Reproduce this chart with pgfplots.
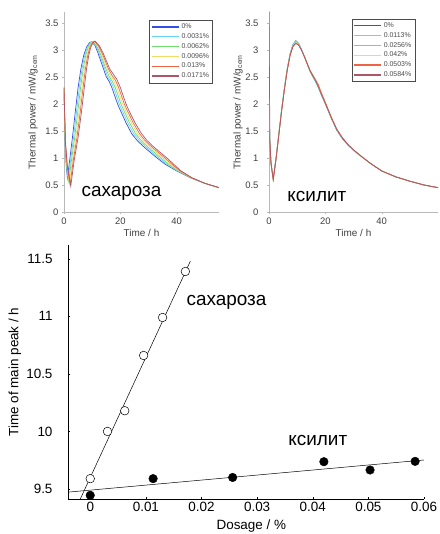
\documentclass[border=0pt]{standalone}
\usepackage{fontspec}
\setmainfont{Liberation Sans}
\usepackage{pgfplots}
\usepackage{pgfplotstable}
\pgfplotsset{compat=1.18}

\definecolor{c0}{RGB}{50,80,230}
\definecolor{c1}{RGB}{100,210,245}
\definecolor{c2}{RGB}{110,220,110}
\definecolor{c3}{RGB}{240,220,100}
\definecolor{c4}{RGB}{240,100,70}
\definecolor{c5}{RGB}{175,85,105}

% sucrose: heat flow curves, one time column per dosage
\pgfplotstableread{
t0   t1    t2    t3    t4    t5   p0   p1   p2   p3   p4   p5
0    0     0     0     0     0    2.3  2.3  2.3  2.3  2.3  2.3
0.4  0.42  0.44  0.46  0.48  0.5  1.3  1.3  1.3  1.3  1.3  1.3
0.8  0.88  0.96  1.04  1.12  1.2  0.85 0.85 0.85 0.85 0.85 0.85
1.2  1.44  1.68  1.92  2.16  2.4  0.63 0.60 0.57 0.54 0.51 0.48
2    2.32  2.64  2.96  3.28  3.6  0.95 0.95 0.95 0.95 0.95 0.95
3    3.4   3.8   4.2   4.6   5    1.38 1.38 1.38 1.38 1.38 1.38
4    4.44  4.88  5.32  5.76  6.2  1.85 1.85 1.85 1.85 1.85 1.85
5    5.44  5.88  6.32  6.76  7.2  2.3  2.3  2.3  2.3  2.3  2.3
6    6.4   6.8   7.2   7.6   8    2.65 2.65 2.65 2.65 2.65 2.65
7    7.36  7.72  8.08  8.44  8.8  2.9  2.9  2.9  2.9  2.9  2.9
8    8.3   8.6   8.9   9.2   9.5  3.05 3.05 3.05 3.05 3.05 3.05
9    9.26  9.52  9.78  10.04 10.3 3.13 3.13 3.13 3.13 3.13 3.13
9.8  10.04 10.28 10.52 10.76 11   3.15 3.15 3.15 3.16 3.16 3.16
11   11.3  11.6  11.9  12.2  12.5 3.08 3.08 3.08 3.08 3.08 3.08
12   12.36 12.72 13.08 13.44 13.8 2.95 2.95 2.95 2.95 2.95 2.95
13   13.4  13.8  14.2  14.6  15   2.8  2.8  2.8  2.8  2.8  2.8
14   14.44 14.88 15.32 15.76 16.2 2.65 2.65 2.65 2.65 2.65 2.65
15   15.5  16    16.5  17    17.5 2.5  2.5  2.51 2.52 2.53 2.55
16   16.56 17.12 17.68 18.24 18.8 2.42 2.42 2.42 2.43 2.44 2.45
17   17.6  18.2  18.8  19.4  20   2.3  2.3  2.3  2.3  2.3  2.3
18   18.6  19.2  19.8  20.4  21   2.15 2.15 2.15 2.15 2.15 2.15
19   19.6  20.2  20.8  21.4  22   2.0  2.0  2.0  2.0  2.0  2.0
20   20.6  21.2  21.8  22.4  23   1.88 1.88 1.88 1.88 1.88 1.88
22   22.64 23.28 23.92 24.56 25.2 1.65 1.65 1.65 1.65 1.65 1.65
24   24.7  25.4  26.1  26.8  27.5 1.45 1.45 1.45 1.45 1.45 1.45
26   26.7  27.4  28.1  28.8  29.5 1.32 1.32 1.32 1.32 1.32 1.32
28   28.7  29.4  30.1  30.8  31.5 1.22 1.22 1.22 1.22 1.22 1.22
30   30.7  31.4  32.1  32.8  33.5 1.13 1.13 1.13 1.13 1.13 1.13
33   33.7  34.4  35.1  35.8  36.5 1.0  1.0  1.0  1.0  1.0  1.0
36   36.6  37.2  37.8  38.4  39   0.88 0.88 0.88 0.88 0.88 0.88
40   40.3  40.6  40.9  41.2  41.5 0.76 0.76 0.76 0.76 0.76 0.76
45   45.1  45.2  45.3  45.4  45.5 0.63 0.63 0.63 0.63 0.63 0.63
50   50    50    50    50    50   0.53 0.53 0.53 0.53 0.53 0.53
55   55    55    55    55    55   0.45 0.45 0.45 0.45 0.45 0.45
}\sucrose

% xylitol: heat flow curves
\pgfplotstableread{
t    p0   p1   p2   p3   p4   p5
0    2.3  2.2  2.0  2.1  1.4  3.9
0.3  1.3  1.3  1.32 1.3  1.28 1.35
0.7  0.9  0.9  0.9  0.92 0.9  0.92
1.5  0.61 0.61 0.6  0.6  0.6  0.6
2.5  1.0  1.0  0.98 0.99 0.98 0.98
3.5  1.45 1.45 1.44 1.44 1.43 1.43
4.5  1.9  1.9  1.9  1.89 1.88 1.88
5.5  2.3  2.3  2.3  2.29 2.28 2.28
6.5  2.65 2.66 2.65 2.64 2.63 2.63
7.5  2.93 2.93 2.92 2.91 2.9  2.9
8.5  3.1  3.1  3.08 3.07 3.06 3.06
9.5  3.17 3.17 3.15 3.14 3.12 3.12
10.5 3.12 3.12 3.11 3.1  3.09 3.09
11.5 3.01 3.01 3.0  3.0  3.0  3.0
12.5 2.88 2.88 2.88 2.88 2.89 2.88
13.5 2.75 2.74 2.75 2.76 2.76 2.75
14.5 2.62 2.6  2.62 2.63 2.63 2.62
15.5 2.52 2.5  2.52 2.53 2.54 2.52
16.5 2.42 2.41 2.43 2.44 2.45 2.43
17.5 2.31 2.3  2.32 2.34 2.36 2.32
18.5 2.18 2.18 2.19 2.2  2.22 2.19
20   2.0  2.0  2.01 2.02 2.03 2.01
22   1.75 1.75 1.76 1.77 1.77 1.76
24   1.52 1.52 1.53 1.54 1.54 1.53
26   1.36 1.36 1.37 1.38 1.38 1.37
28   1.24 1.24 1.25 1.25 1.25 1.25
30   1.14 1.14 1.15 1.15 1.15 1.15
33   1.02 1.02 1.02 1.02 1.02 1.02
36   0.9  0.9  0.9  0.9  0.9  0.9
40   0.76 0.76 0.76 0.76 0.76 0.76
45   0.65 0.65 0.65 0.65 0.65 0.65
50   0.57 0.57 0.57 0.57 0.57 0.57
55   0.5  0.5  0.5  0.5  0.5  0.5
60   0.45 0.45 0.45 0.45 0.45 0.45
}\xylitol

\pgfplotsset{
  heat/.style={
    scale only axis, height=200bp,
    xmin=0, ymin=0, ymax=3.7,
    axis x line*=bottom, axis y line*=left,
    axis line style={gray!55, -},
    tick style={gray!55}, major tick length=2bp, tick align=outside,
    xtick={0,20,40}, ytick={0,0.5,1,1.5,2,2.5,3,3.5},
    /pgf/number format/assume math mode=true,
    ticklabel style={font=\fontsize{9.5}{10}\selectfont, text=black!75},
    label style={font=\fontsize{10}{11}\selectfont, text=black!75},
    xlabel={Time / h},
    ylabel={Thermal power / mW/g\textsubscript{cem}},
    xlabel style={at={(axis description cs:0.5,-0.105)}, anchor=center},
    every axis plot/.append style={line width=0.7pt},
    legend style={draw=black!70, line width=0.4pt, fill=white,
      font=\fontsize{7}{7}\selectfont, inner sep=1.5bp, row sep=-0.5bp,
      text=black!70},
    legend cell align=left,
    legend image code/.code={\draw[#1, line width=1.4pt] (0bp,0bp) -- (27bp,0bp);},
  },
}

\begin{document}
\begin{tikzpicture}
\useasboundingbox (0,0) rectangle (440bp,534bp);

% ---- sucrose curves
\begin{axis}[heat, at={(64bp,322bp)}, anchor=south west, width=155bp, xmax=55,
  ylabel style={at={(axis description cs:-0.2,0.5)}, anchor=center},
  legend style={at={(0.96,0.96)}, anchor=north east}]
\addplot[c0] table[x=t0,y=p0]{\sucrose};
\addplot[c1] table[x=t1,y=p1]{\sucrose};
\addplot[c2] table[x=t2,y=p2]{\sucrose};
\addplot[c3] table[x=t3,y=p3]{\sucrose};
\addplot[c4] table[x=t4,y=p4]{\sucrose};
\addplot[c5] table[x=t5,y=p5]{\sucrose};
\legend{0\%, 0.0031\%, 0.0062\%, 0.0096\%, 0.013\%, 0.0171\%}
\node[anchor=base, font=\fontsize{19}{19}\selectfont] at (axis cs:20.4,0.28) {сахароза};
\end{axis}

% ---- xylitol curves
\begin{axis}[heat, at={(269bp,322bp)}, anchor=south west, width=169bp, xmax=60,
  yticklabel style={xshift=-5bp},
  ylabel style={at={(axis description cs:-0.183,0.5)}, anchor=center},
  legend style={at={(0.864,0.966)}, anchor=north east}]
\addplot[c0] table[x=t,y=p0]{\xylitol};
\addplot[c1] table[x=t,y=p1]{\xylitol};
\addplot[c2] table[x=t,y=p2]{\xylitol};
\addplot[c3] table[x=t,y=p3]{\xylitol};
\addplot[c4] table[x=t,y=p4]{\xylitol};
\addplot[c5] table[x=t,y=p5]{\xylitol};
\legend{0\%, 0.0113\%, 0.0256\%, 0.042\%, 0.0503\%, 0.0584\%}
\node[anchor=base, font=\fontsize{19}{19}\selectfont] at (axis cs:17,0.2) {ксилит};
\end{axis}

% ---- time of main peak vs dosage
\begin{axis}[at={(68bp,35bp)}, anchor=south west, scale only axis,
  width=356bp, height=254bp,
  xmin=-0.004, xmax=0.06, ymin=9.413, ymax=11.62,
  axis x line*=bottom, axis y line*=left,
  axis line style={black, -}, tick style={black}, major tick length=2bp,
  xtick={0,0.01,0.02,0.03,0.04,0.05,0.06},
  ytick={9.5,10,10.5,11,11.5},
  scaled x ticks=false,
  xticklabel style={/pgf/number format/fixed, /pgf/number format/precision=2},
  yticklabel style={xshift=-12bp},
  /pgf/number format/assume math mode=true,
  ticklabel style={font=\fontsize{13.5}{14}\selectfont},
  label style={font=\fontsize{13.5}{14}\selectfont},
  xlabel={Dosage / \%}, ylabel={Time of main peak / h},
  xlabel style={at={(axis description cs:0.515,-0.122)}, anchor=base},
  ylabel style={at={(axis description cs:-0.149,0.5)}, anchor=center},
]
\addplot[black, line width=0.5pt] coordinates {(-0.0018,9.412) (0.018,11.48)};
\addplot[black, line width=0.5pt] coordinates {(-0.004,9.4725) (0.06,9.752)};
\addplot[only marks, mark=*, mark size=4.3bp, mark options={fill=white, draw=black, line width=0.5pt}]
  coordinates {(0,9.59) (0.0031,10.0) (0.0062,10.18) (0.0096,10.66) (0.013,10.99) (0.0171,11.39)};
\addplot[only marks, mark=*, mark size=4.3bp, mark options={fill=black, draw=black}]
  coordinates {(0,9.445) (0.0113,9.59) (0.0256,9.60) (0.042,9.737) (0.0503,9.665) (0.0584,9.74)};
\node[anchor=base, font=\fontsize{19}{19}\selectfont] at (axis cs:0.0245,11.09) {сахароза};
\node[anchor=base, font=\fontsize{19}{19}\selectfont] at (axis cs:0.0409,9.874) {ксилит};
\end{axis}
\end{tikzpicture}
\end{document}
